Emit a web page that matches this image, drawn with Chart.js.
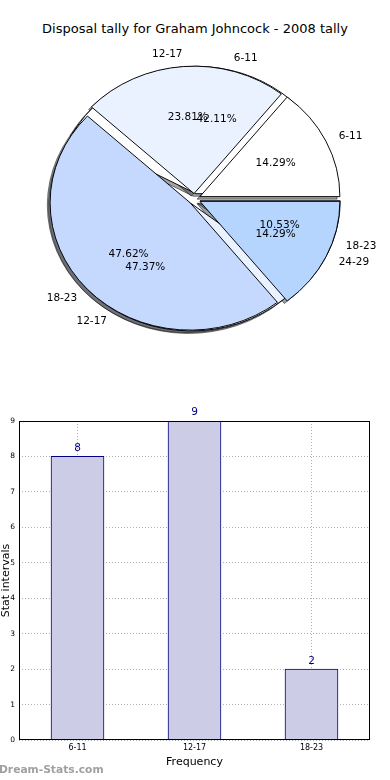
<!DOCTYPE html>
<html>
<head>
<meta charset="utf-8">
<script src="https://cdn.jsdelivr.net/npm/chart.js@4.4.1/dist/chart.umd.min.js"></script>
<style>
    body { margin: 0; background: #fff; }
    #wrap { position: relative; width: 390px; height: 780px; overflow: hidden; font-family: "DejaVu Sans", sans-serif; }
    #title { position: absolute; left: 0; top: 21px; width: 390px; text-align: center; font-size: 13px; color: #000; }
    .pie { position: absolute; left: 0; top: 0; }
    #pieBack { z-index: 1; }
    #pieFront { z-index: 2; }
    #barChart { position: absolute; left: 0; top: 400px; }
    #mark { position: absolute; left: -1px; top: 763px; font-weight: bold; font-size: 10.7px; color: #a0a0a0; }
</style>
</head>
<body>
<div id="wrap">
    <div id="title">Disposal tally for Graham Johncock - 2008 tally</div>
    <canvas id="pieBack" class="pie" width="390" height="398"></canvas>
    <canvas id="pieFront" class="pie" width="390" height="398"></canvas>
    <canvas id="barChart" width="390" height="380"></canvas>
    <div id="mark">Dream-Stats.com</div>
</div>
<script>
// first pie (drawn on top)
var pieLabels1 = ["6-11", "12-17", "18-23", "24-29"];
var pieValues1 = [3, 5, 10, 3];
var pieColors1 = ["#ffffff", "#ebf2ff", "#c5d9ff", "#b5d5ff"];

// second pie (underneath)
var pieLabels2 = ["6-11", "12-17", "18-23"];
var pieValues2 = [8, 9, 2];
var pieColors2 = ["#ffffff", "#ebf2ff", "#c5d9ff"];

// bar chart
var barLabels = ["6-11", "12-17", "18-23"];
var barValues = [8, 9, 2];

var SQUASH = 0.91;
var EXPLODE = 6;
var SHADOW_X = -2.8, SHADOW_Y = 2.5;
var PIE_R = 140;

Chart.defaults.font.family = "'DejaVu Sans', sans-serif";
Chart.defaults.color = "#000";

function rev(arr) {
    return arr.slice().reverse();
}

// pie is drawn clockwise from 3 o'clock, so feed it reversed to get counter-clockwise order
function pieConfig(labels, values, colors, plugins) {
    return {
        type: "pie",
        data: {
            labels: rev(labels),
            datasets: [{
                data: rev(values),
                backgroundColor: rev(colors),
                borderColor: "#000",
                borderWidth: 1
            }]
        },
        options: {
            responsive: false,
            animation: false,
            rotation: 90,
            radius: PIE_R,
            layout: { padding: { right: 1 } },
            plugins: { legend: { display: false }, tooltip: { enabled: false } }
        },
        plugins: plugins
    };
}

var squashPlugin = {
    id: "squash",
    beforeDatasetsDraw: function (chart) {
        var ctx = chart.ctx, a = chart.chartArea;
        var cx = (a.left + a.right) / 2, cy = (a.top + a.bottom) / 2;
        ctx.save();
        ctx.translate(cx, cy);
        ctx.scale(1, SQUASH);
        ctx.translate(-cx, -cy);
    },
    afterDatasetsDraw: function (chart) {
        chart.ctx.restore();
    }
};

function drawExploded(meta, ctx) {
    meta.data.forEach(function (arc) {
        var mid = (arc.startAngle + arc.endAngle) / 2;
        ctx.save();
        ctx.translate(Math.cos(mid) * EXPLODE, Math.sin(mid) * EXPLODE);
        arc.draw(ctx);
        ctx.restore();
    });
}

function drawPieText(chart, ctx) {
    var meta = chart.getDatasetMeta(0);
    var values = chart.data.datasets[0].data;
    var labels = chart.data.labels;
    var total = values.reduce(function (s, v) { return s + v; }, 0);
    meta.data.forEach(function (arc, i) {
        var mid = (arc.startAngle + arc.endAngle) / 2;
        var c = Math.cos(mid), s = Math.sin(mid);
        var r = arc.outerRadius;
        var lx = arc.x + c * (EXPLODE + 1.1 * r);
        var ly = arc.y + s * SQUASH * (EXPLODE + 1.1 * r);
        ctx.textAlign = c > 0 ? "left" : "right";
        ctx.fillText(labels[i], lx, ly);
        var px = arc.x + c * (EXPLODE + 0.6 * r);
        var py = arc.y + s * SQUASH * (EXPLODE + 0.6 * r);
        ctx.textAlign = "center";
        ctx.fillText((values[i] / total * 100).toFixed(2) + "%", px, py);
    });
}

var frontChart = null, backChart = null;

var frontPlugin = {
    id: "front",
    beforeDatasetDraw: function (chart, args) {
        drawExploded(args.meta, chart.ctx);
        return false;
    },
    afterDraw: function (chart) {
        var ctx = chart.ctx;
        ctx.save();
        ctx.font = "10.5px 'DejaVu Sans'";
        ctx.fillStyle = "#000";
        ctx.textBaseline = "middle";
        drawPieText(chart, ctx);
        if (backChart) drawPieText(backChart, ctx);
        ctx.restore();
    }
};

var backPlugin = {
    id: "back",
    beforeDatasetDraw: function (chart, args) {
        var ctx = chart.ctx;
        // shadows of both pies go under every wedge
        ctx.save();
        ctx.translate(SHADOW_X, SHADOW_Y / SQUASH);
        ctx.filter = "brightness(30%)";
        ctx.globalAlpha = 0.5;
        drawExploded(args.meta, ctx);
        drawExploded(frontChart.getDatasetMeta(0), ctx);
        ctx.restore();
        drawExploded(args.meta, ctx);
        return false;
    }
};

frontChart = new Chart(document.getElementById("pieFront"),
    pieConfig(pieLabels1, pieValues1, pieColors1, [squashPlugin, frontPlugin]));
backChart = new Chart(document.getElementById("pieBack"),
    pieConfig(pieLabels2, pieValues2, pieColors2, [squashPlugin, backPlugin]));
frontChart.draw();

var framePlugin = {
    id: "frame",
    afterDatasetsDraw: function (chart) {
        var ctx = chart.ctx, a = chart.chartArea;
        ctx.save();
        ctx.strokeStyle = "#000";
        ctx.lineWidth = 1;
        ctx.strokeRect(a.left + 0.5, a.top + 0.5, a.right - a.left - 1, a.bottom - a.top - 1);
        var meta = chart.getDatasetMeta(0);
        ctx.font = "10.5px 'DejaVu Sans'";
        ctx.fillStyle = "#000080";
        ctx.textAlign = "center";
        ctx.textBaseline = "bottom";
        meta.data.forEach(function (bar, i) {
            ctx.fillText(String(barValues[i]), bar.x, bar.y - 3);
        });
        ctx.restore();
    }
};

new Chart(document.getElementById("barChart"), {
    type: "bar",
    data: {
        labels: barLabels,
        datasets: [{
            data: barValues,
            backgroundColor: "#ccccE6",
            borderColor: "#000080",
            borderWidth: 1,
            barThickness: 53
        }]
    },
    options: {
        responsive: false,
        animation: false,
        layout: { padding: { top: 21, right: 20, left: 0, bottom: 11 } },
        plugins: { legend: { display: false }, tooltip: { enabled: false } },
        scales: {
            x: {
                offset: true,
                grid: { offset: false, color: "#b0b0b0", drawTicks: false },
                border: { display: false, dash: [1, 2] },
                ticks: { font: { size: 8 }, padding: 3, maxRotation: 0 },
                title: { display: true, text: "Frequency", font: { size: 11 }, padding: { top: 1, bottom: 0 } },
                afterFit: function (scale) { scale.height = 29; }
            },
            y: {
                min: 0,
                max: 9,
                ticks: { stepSize: 1, font: { size: 7.5 }, padding: 4 },
                grid: { color: "#b0b0b0", drawTicks: false },
                border: { display: false, dash: [1, 2] },
                title: { display: true, text: "Stat intervals", font: { size: 11 }, padding: 0 },
                afterFit: function (scale) { scale.width = 19; }
            }
        }
    },
    plugins: [framePlugin]
});
</script>
</body>
</html>
